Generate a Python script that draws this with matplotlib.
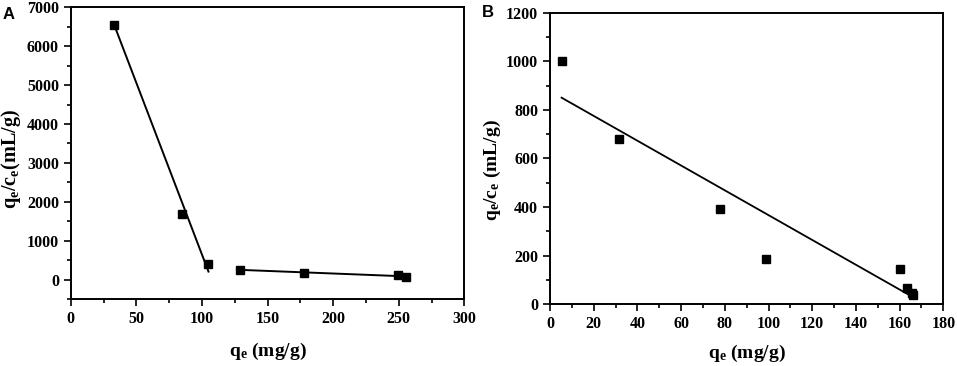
import matplotlib
matplotlib.use("Agg")
import matplotlib.pyplot as plt
from matplotlib.ticker import MultipleLocator

plt.rcParams['font.family'] = ['Liberation Serif', 'DejaVu Serif']
plt.rcParams['font.weight'] = 'bold'
plt.rcParams['mathtext.fontset'] = 'custom'
plt.rcParams['mathtext.bf'] = 'Liberation Serif:bold'
plt.rcParams['mathtext.rm'] = 'Liberation Serif:bold'
plt.rcParams['mathtext.it'] = 'Liberation Serif:bold'
plt.rcParams['mathtext.default'] = 'bf'

# Panel A data
a_qe = [33, 84.6, 104.9, 129, 177.8, 249.5, 255.6]
a_ratio = [6555, 1690, 411, 257, 180, 121, 77]
# Panel A fit lines (two linear regions)
a_fit1_x = [33, 105]
a_fit1_y = [6560, 205]
a_fit2_x = [129, 256]
a_fit2_y = [250, 82]

# Panel B data
b_qe = [5.3, 31.4, 77.8, 98.7, 160.2, 163.2, 165.8, 166.1]
b_ratio = [1001, 682, 391, 185, 144, 67, 45, 38]
b_fit_x = [5.3, 165.8]
b_fit_y = [850, 31]

fig = plt.figure(figsize=(9.57, 3.66), dpi=100)
axA = fig.add_axes([0.0739, 0.183, 0.4113, 0.797])
axB = fig.add_axes([0.5747, 0.1686, 0.411, 0.797])

def style(ax):
    for s in ax.spines.values():
        s.set_linewidth(1.4)
    ax.tick_params(which='both', direction='out', top=False, right=False,
                   labelsize=11.5, width=1.2)
    ax.tick_params(which='major', length=5)
    ax.tick_params(which='minor', length=3)
    for lab in ax.get_xticklabels() + ax.get_yticklabels():
        lab.set_fontweight('bold')

# Panel A
axA.plot(a_fit1_x, a_fit1_y, color='black', lw=1.4)
axA.plot(a_fit2_x, a_fit2_y, color='black', lw=1.4)
axA.plot(a_qe, a_ratio, 's', color='black', ms=6)
axA.set_xlim(0, 300)
axA.set_ylim(-500, 7000)
axA.xaxis.set_major_locator(MultipleLocator(50))
axA.xaxis.set_minor_locator(MultipleLocator(25))
axA.yaxis.set_major_locator(MultipleLocator(1000))
axA.yaxis.set_minor_locator(MultipleLocator(500))
axA.set_yticks(range(0, 7001, 1000))
axA.set_xlabel('q$_e$ (mg/g)', fontsize=14, fontweight='bold', labelpad=10)
axA.set_ylabel('q$_e$/c$_e$(mL/g)', fontsize=14.5, fontweight='bold')
axA.yaxis.set_label_coords(-0.121, 0.48)
style(axA)
fig.text(0.003, 0.98, 'A', fontsize=12, fontweight='bold',
         family='Liberation Sans', va='top', ha='left')

# Panel B
axB.plot(b_fit_x, b_fit_y, color='black', lw=1.3)
axB.plot(b_qe, b_ratio, 's', color='black', ms=6)
axB.set_xlim(0, 180)
axB.set_ylim(0, 1200)
axB.xaxis.set_major_locator(MultipleLocator(20))
axB.xaxis.set_minor_locator(MultipleLocator(10))
axB.yaxis.set_major_locator(MultipleLocator(200))
axB.yaxis.set_minor_locator(MultipleLocator(100))
axB.set_xlabel('q$_e$ (mg/g)', fontsize=14, fontweight='bold', labelpad=8)
axB.set_ylabel('q$_e$/c$_e$ (mL/g)', fontsize=14, fontweight='bold')
axB.yaxis.set_label_coords(-0.1195, 0.46)
style(axB)
fig.text(0.504, 0.986, 'B', fontsize=12, fontweight='bold',
         family='Liberation Sans', va='top', ha='left')

fig.savefig('out.png', dpi=100)
